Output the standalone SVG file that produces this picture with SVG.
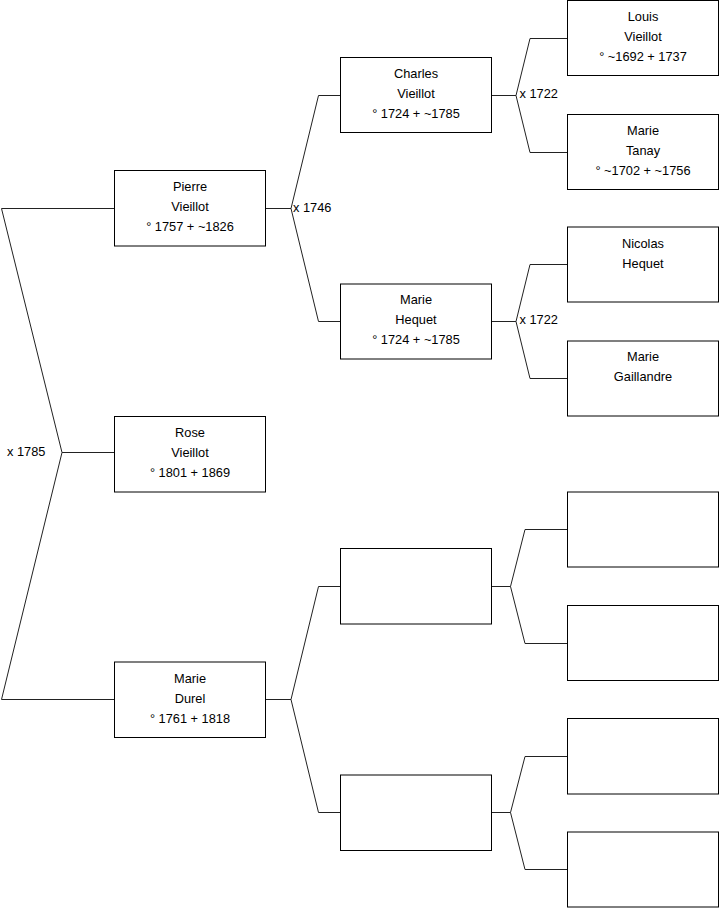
<svg xmlns="http://www.w3.org/2000/svg" width="719" height="908" viewBox="0 0 719 908">
<style>
.box{fill:#fff;stroke:#000;stroke-width:1}
.ln{fill:none;stroke:#222;stroke-width:1}
text{font-family:"Liberation Sans",Arial,sans-serif;font-size:12.8px;fill:#000}
.c{text-anchor:middle}
</style>
<rect width="719" height="908" fill="#fff"/>
<g id="connectors">
<path class="ln" d="M114.5,208.5 H1.5 L62,452.5 L1.5,699.5 H114.5"/>
<path class="ln" d="M62,452.5 H114.5"/>
<path class="ln" d="M265.5,208.5 H291 L318.5,95.5 H340.5 M291,208.5 L318.5,321.5 H340.5"/>
<path class="ln" d="M265.5,699.5 H291 L318.5,586.5 H340.5 M291,699.5 L318.5,812.5 H340.5"/>
<path class="ln" d="M491.5,95.5 H516 L530,38.5 H567.5 M516,95.5 L530,152.5 H567.5"/>
<path class="ln" d="M491.5,321.5 H516 L530,264.5 H567.5 M516,321.5 L530,378.5 H567.5"/>
<path class="ln" d="M491.5,586.5 H510.5 L525,529.5 H567.5 M510.5,586.5 L525,643.5 H567.5"/>
<path class="ln" d="M491.5,812.5 H510.5 L525,756.5 H567.5 M510.5,812.5 L525,869.5 H567.5"/>
<text x="7" y="456">x 1785</text>
<text x="293" y="211.5">x 1746</text>
<text x="519.5" y="97.5">x 1722</text>
<text x="519.5" y="324">x 1722</text>
</g>
<g id="pierre">
<rect class="box" x="114.5" y="170.5" width="151" height="75.5"/>
<text class="c" x="190" y="191">Pierre</text>
<text class="c" x="190" y="211">Vieillot</text>
<text class="c" x="190" y="231">° 1757 + ~1826</text>
</g>
<g id="rose">
<rect class="box" x="114.5" y="416.5" width="151" height="75.5"/>
<text class="c" x="190" y="437">Rose</text>
<text class="c" x="190" y="457">Vieillot</text>
<text class="c" x="190" y="477">° 1801 + 1869</text>
</g>
<g id="marie-durel">
<rect class="box" x="114.5" y="662" width="151" height="75.5"/>
<text class="c" x="190" y="682.5">Marie</text>
<text class="c" x="190" y="702.5">Durel</text>
<text class="c" x="190" y="722.5">° 1761 + 1818</text>
</g>
<g id="charles">
<rect class="box" x="340.5" y="57.5" width="151" height="75"/>
<text class="c" x="416" y="77.5">Charles</text>
<text class="c" x="416" y="97.5">Vieillot</text>
<text class="c" x="416" y="117.5">° 1724 + ~1785</text>
</g>
<g id="marie-hequet">
<rect class="box" x="340.5" y="284" width="151" height="75"/>
<text class="c" x="416" y="304">Marie</text>
<text class="c" x="416" y="324">Hequet</text>
<text class="c" x="416" y="344">° 1724 + ~1785</text>
</g>
<g id="empty-f">
<rect class="box" x="340.5" y="548.5" width="151" height="75.5"/>
</g>
<g id="empty-m">
<rect class="box" x="340.5" y="775" width="151" height="75.5"/>
</g>
<g id="louis">
<rect class="box" x="567.5" y="0.5" width="151" height="75"/>
<text class="c" x="643" y="20.5">Louis</text>
<text class="c" x="643" y="40.5">Vieillot</text>
<text class="c" x="643" y="60.5">° ~1692 + 1737</text>
</g>
<g id="marie-tanay">
<rect class="box" x="567.5" y="114.5" width="151" height="75"/>
<text class="c" x="643" y="134.5">Marie</text>
<text class="c" x="643" y="154.5">Tanay</text>
<text class="c" x="643" y="174.5">° ~1702 + ~1756</text>
</g>
<g id="nicolas">
<rect class="box" x="567.5" y="227" width="151" height="75"/>
<text class="c" x="643" y="247.5">Nicolas</text>
<text class="c" x="643" y="267.5">Hequet</text>
</g>
<g id="marie-gaillandre">
<rect class="box" x="567.5" y="341" width="151" height="75"/>
<text class="c" x="643" y="361">Marie</text>
<text class="c" x="643" y="381">Gaillandre</text>
</g>
<g id="empty-ff">
<rect class="box" x="567.5" y="492" width="151" height="75"/>
</g>
<g id="empty-fm">
<rect class="box" x="567.5" y="605.5" width="151" height="75"/>
</g>
<g id="empty-mf">
<rect class="box" x="567.5" y="718.5" width="151" height="75.5"/>
</g>
<g id="empty-mm">
<rect class="box" x="567.5" y="832" width="151" height="75"/>
</g>
</svg>
